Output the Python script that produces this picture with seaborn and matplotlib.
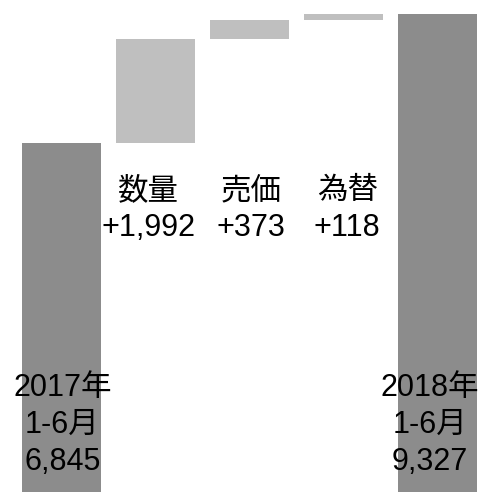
import matplotlib
matplotlib.use("Agg")
import matplotlib.pyplot as plt
import matplotlib.transforms as mtransforms
import seaborn as sns
import numpy as np

# ---- data ----
categories = ["2017年\n1-6月", "数量", "売価", "為替", "2018年\n1-6月"]
start_value = 6845
deltas = [1992, 373, 118]
end_value = 9327
delta_labels = ["数量", "売価", "為替"]
delta_texts = ["+1,992", "+373", "+118"]
total_top_lines = ["2017年", "2018年"]
total_mid_lines = ["1-6月", "1-6月"]
total_values_txt = ["6,845", "9,327"]

# ---- derived bar geometry ----
cum = np.cumsum([start_value] + deltas)
heights = [start_value] + deltas + [end_value]
bottoms = [0] + list(cum[:-1]) + [0]

sns.set_theme(style="white")
plt.rcParams["font.family"] = ["Liberation Sans", "Noto Sans CJK JP", "DejaVu Sans"]

W, H = 479, 492
fig = plt.figure(figsize=(W / 100, H / 100), dpi=100)
ax = fig.add_axes([0, 0, 1, 1])

sns.barplot(x=list(range(5)), y=heights, bottom=bottoms, color="#8c8c8c",
            width=0.84, saturation=1, ax=ax, native_scale=False)
dark = "#8c8c8c"
light = "#bfbfbf"
for i, p in enumerate(ax.patches):
    p.set_facecolor(dark if i in (0, 4) else light)
    p.set_edgecolor("none")
    p.set_linewidth(0)

ax.set_xlim(-0.654, 4.441)
ax.set_ylim(129, 9590)
ax.axis("off")

fs = 22
trans = mtransforms.blended_transform_factory(ax.transData, ax.transAxes)

def yf(pix):
    return 1 - pix / H

# total bars labels
total_x = [0.01, 4 - 0.08]
for idx, xi in enumerate(total_x):
    ax.text(xi, yf(396), total_top_lines[idx], transform=trans, ha="center",
            va="baseline", fontsize=fs, color="black")
    ax.text(xi, yf(433), total_mid_lines[idx], transform=trans, ha="center",
            va="baseline", fontsize=fs, color="black")
    ax.text(xi, yf(470), total_values_txt[idx], transform=trans, ha="center",
            va="baseline", fontsize=fs, color="black")

# delta labels
x_shift = [-0.07, 0.02, 0.04]
for j in range(3):
    ax.text(j + 1 + x_shift[j], yf(199), delta_labels[j], transform=trans, ha="center",
            va="baseline", fontsize=fs, color="black")
    ax.text(j + 1 + x_shift[j], yf(236), delta_texts[j], transform=trans, ha="center",
            va="baseline", fontsize=fs, color="black")

fig.savefig("out.png", dpi=100)
